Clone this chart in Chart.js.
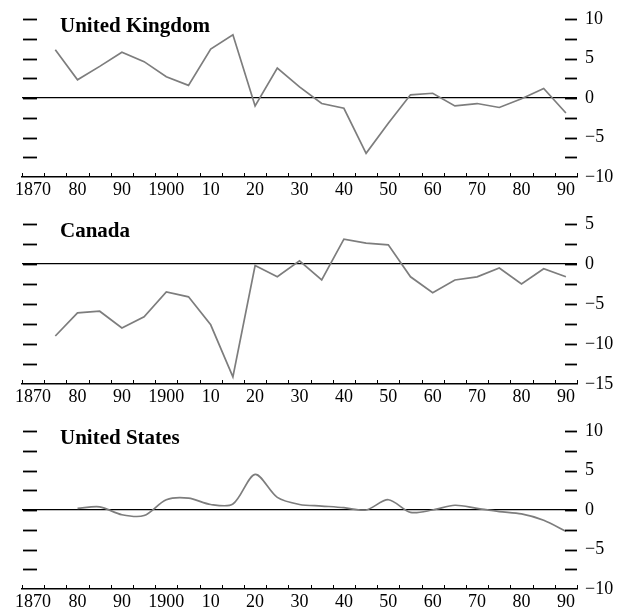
<!DOCTYPE html>
<html>
<head>
<meta charset="utf-8">
<script src="https://cdn.jsdelivr.net/npm/chart.js@4.4.1/dist/chart.umd.min.js"></script>
<style>
  html, body { margin: 0; padding: 0; background: #fff; }
  #wrap { position: relative; width: 631px; height: 614px; overflow: hidden; }
  .panel { position: absolute; left: 0; width: 631px; }
</style>
</head>
<body>
<div id="wrap">
  <div class="panel" style="top:0;height:205px"><canvas id="uk"></canvas></div>
  <div class="panel" style="top:205px;height:205px"><canvas id="ca"></canvas></div>
  <div class="panel" style="top:410px;height:204px"><canvas id="us"></canvas></div>
</div>
<script>
// Five-year observation points
const years = [1875, 1880, 1885, 1890, 1895, 1900, 1905, 1910, 1915, 1920, 1925, 1930,
               1935, 1940, 1945, 1950, 1955, 1960, 1965, 1970, 1975, 1980, 1985, 1990];

// Series values (percent)
const ukValues = [6.1, 2.3, 4.0, 5.8, 4.6, 2.7, 1.6, 6.2, 8.0, -1.0, 3.8, 1.4,
                  -0.7, -1.3, -7.0, -3.2, 0.4, 0.6, -1.0, -0.7, -1.2, -0.1, 1.2, -1.9];
const caValues = [-9.0, -6.1, -5.9, -8.0, -6.6, -3.5, -4.1, -7.6, -14.1, -0.2, -1.6, 0.4,
                  -2.0, 3.1, 2.6, 2.4, -1.6, -3.6, -2.0, -1.6, -0.5, -2.5, -0.6, -1.6];
const usValues = [null, 0.2, 0.4, -0.6, -0.7, 1.3, 1.5, 0.7, 0.75, 4.5, 1.6, 0.7,
                  0.5, 0.3, 0.0, 1.3, -0.3, 0.0, 0.6, 0.2, -0.2, -0.5, -1.3, -2.7];

// Labelled decades on the time axis
const decadeTicks = [1870, 1880, 1890, 1900, 1910, 1920, 1930, 1940, 1950, 1960, 1970, 1980, 1990];
const decadeLabels = ['1870', '80', '90', '1900', '10', '20', '30', '40', '50', '60', '70', '80', '90'];

const SERIF = '"Liberation Serif", "Times New Roman", serif';

// Short marks along the plot edges, period ticks on the time axis and the panel heading
const panelDecor = {
  id: 'panelDecor',
  afterDraw(chart, args, opts) {
    const ctx = chart.ctx, a = chart.chartArea;
    const xs = chart.scales.x, ys = chart.scales.y;
    const seg = (x1, y1, x2, y2) => { ctx.beginPath(); ctx.moveTo(x1, y1); ctx.lineTo(x2, y2); ctx.stroke(); };
    ctx.save();
    ctx.strokeStyle = '#000';
    ctx.lineWidth = 1.8;
    ys.ticks.forEach(t => {
      if (t.value <= ys.min) return;
      const py = Math.round(ys.getPixelForValue(t.value)) + 0.5;
      seg(a.left + 1, py, a.left + 15, py);
      seg(a.right - 12, py, a.right, py);
    });
    ctx.lineWidth = 1;
    for (let v = xs.min; v <= xs.max + 1e-6; v += 5) {
      const px = Math.round(xs.getPixelForValue(v)) + 0.5;
      seg(px, a.bottom, px, a.bottom - 4);
    }
    ctx.fillStyle = '#000';
    ctx.font = 'bold 21px ' + SERIF;
    ctx.textBaseline = 'alphabetic';
    ctx.textAlign = 'left';
    ctx.fillText(opts.title, a.left + 38, a.top + 13);
    ctx.restore();
  }
};

function fmt(v) {
  if (Math.abs(v % 5) > 1e-6) return '';
  return v < 0 ? '\u2212' + Math.abs(v) : String(v);
}

function makePanel(id, title, values, yMin, yMax, padTop, axisHeight, tension) {
  new Chart(document.getElementById(id), {
    type: 'line',
    data: {
      datasets: [{
        data: years.map((yr, i) => ({ x: yr, y: values[i] })),
        borderColor: '#7d7d7d',
        borderWidth: 1.7,
        pointRadius: 0,
        tension: tension,
        spanGaps: false
      }]
    },
    options: {
      responsive: true,
      maintainAspectRatio: false,
      animation: false,
      events: [],
      layout: { padding: { left: 22, right: 0, top: padTop, bottom: 0 } },
      plugins: {
        legend: { display: false },
        tooltip: { enabled: false },
        title: { display: false },
        panelDecor: { title: title }
      },
      scales: {
        x: {
          type: 'linear',
          min: 1867.5,
          max: 1992.5,
          afterBuildTicks: s => { s.ticks = decadeTicks.map(v => ({ value: v })); },
          afterFit: s => { s.height = axisHeight; },
          grid: { display: false, drawTicks: false },
          border: { display: true, color: '#000', width: 1.6 },
          ticks: {
            autoSkip: false,
            maxRotation: 0,
            padding: 2,
            color: '#000',
            font: { family: SERIF, size: 18 },
            callback: (v, i) => decadeLabels[i]
          }
        },
        y: {
          position: 'right',
          min: yMin,
          max: yMax,
          afterFit: s => { s.width = 54; },
          border: { display: false },
          grid: {
            display: true,
            drawOnChartArea: true,
            drawTicks: false,
            lineWidth: 1.2,
            color: c => (c.tick && c.tick.value === 0) ? '#000' : 'rgba(0,0,0,0)'
          },
          ticks: {
            stepSize: 2.5,
            autoSkip: false,
            padding: 8,
            crossAlign: 'near',
            color: '#000',
            font: { family: SERIF, size: 18 },
            callback: v => fmt(v)
          }
        }
      }
    },
    plugins: [panelDecor]
  });
}

makePanel('uk', 'United Kingdom', ukValues, -10, 10, 19, 28, 0);
makePanel('ca', 'Canada', caValues, -15, 5, 19, 26, 0);
makePanel('us', 'United States', usValues, -10, 10, 21, 25, 0.3);
</script>
</body>
</html>
